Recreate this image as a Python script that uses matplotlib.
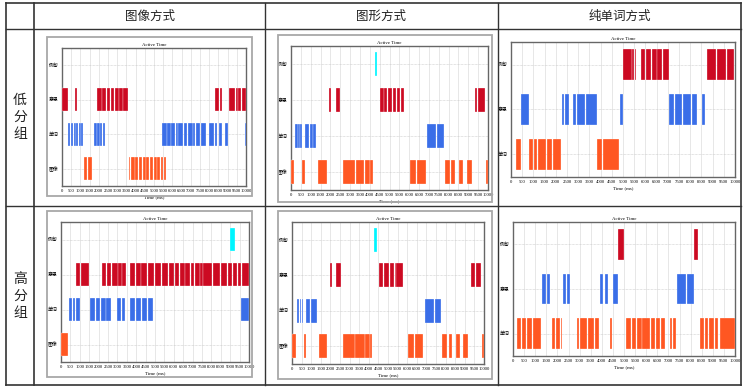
import matplotlib
matplotlib.use('Agg')
import matplotlib.pyplot as plt
from matplotlib.lines import Line2D
from matplotlib.patches import Rectangle

plt.rcParams['font.family'] = ['Liberation Serif', 'Noto Sans CJK SC']

W, H = 746, 387

col_titles = ['图像方式', '图形方式', '纯单词方式']
row_titles = ['低分组', '高分组']

cats4 = ['图像', '单词', '意思', '例句']   # bottom -> top
cats3 = ['单词', '意思', '例句']

# colours used by the source tool, in bottom -> top order
colors4 = ['#ff5722', '#3a6ee8', '#cc0a22', '#00f5ff']
colors3 = ['#ff5722', '#3a6ee8', '#cc0a22']

# active intervals (ms), start/end pairs
low_img = {
    '例句': [],
    '意思': [(0, 300), (680, 820), (1900, 2160), (2190, 2410), (2440, 2610), (2650, 2830),
           (2860, 3080), (3120, 3290), (3330, 3570), (8335, 8530), (8570, 8700),
           (9060, 9420), (9460, 9560), (9590, 9740), (9770, 10000)],
    '单词': [(340, 450), (480, 600), (630, 740), (770, 880), (910, 1010), (1040, 1140),
           (1720, 1880), (1910, 2060), (2090, 2200), (2230, 2355),
           (5450, 5700), (5730, 5900), (5930, 6150), (6180, 6300), (6330, 6600),
           (6630, 6800), (6830, 7100), (7130, 7250), (7280, 7500), (7530, 7850),
           (7970, 8250), (8300, 8430), (8520, 8700), (8880, 9020), (9960, 10000)],
    '图像': [(1200, 1380), (1410, 1630),
           (3620, 3700), (3740, 3950), (3980, 4150), (4180, 4350), (4380, 4550),
           (4580, 4750), (4780, 4950), (4980, 5150), (5180, 5350), (5380, 5500), (5530, 5670)],
}

low_fig = {
    '例句': [(4280, 4380)],
    '意思': [(1940, 2010), (2270, 2490),
           (4530, 4700), (4740, 4860), (4900, 5140), (5180, 5330), (5370, 5550), (5590, 5740),
           (9320, 9450), (9490, 9830)],
    '单词': [(220, 340), (370, 440), (470, 560), (715, 930), (960, 1100), (1130, 1260),
           (6920, 7380), (7420, 7750)],
    '图像': [(0, 170), (580, 700), (1360, 1810),
           (2640, 3240), (3280, 3720), (3760, 3990), (4020, 4160),
           (6020, 6340), (6410, 6830), (7800, 8090), (8130, 8300),
           (8550, 8740), (8930, 9170), (9880, 10000)],
}

low_word = {
    '例句': [(5015, 5380), (5420, 5490), (5530, 5600),
           (5810, 5980), (6020, 6270), (6310, 6500), (6540, 6730), (6770, 7035),
           (8760, 9170), (9210, 9600), (9640, 9970)],
    '意思': [(465, 795), (2260, 2380), (2420, 2575),
           (2785, 2920), (2960, 3290), (3330, 3830), (4865, 4985),
           (7065, 7280), (7320, 7620), (7660, 8020), (8060, 8320), (8530, 8680)],
    '单词': [(240, 435), (795, 970), (1010, 1180), (1220, 1570), (1610, 1820), (1860, 2215),
           (3860, 4050), (4090, 4835)],
}

high_img = {
    '例句': [(8990, 9250)],
    '意思': [(800, 1010), (1050, 1510),
           (2200, 2390), (2430, 2680), (2720, 3010), (3050, 3220), (3260, 3480),
           (3660, 3960), (4000, 4230), (4270, 4600), (4640, 4960), (5000, 5320),
           (5360, 5680), (5720, 6010), (6050, 6290), (6330, 6580), (6620, 6880),
           (6920, 7100), (7140, 7380), (7420, 7530), (7570, 8030), (8070, 8480),
           (8520, 8840), (8880, 9100), (9140, 9350), (9390, 9580), (9620, 10000)],
    '单词': [(430, 600), (640, 760), (800, 995),
           (1560, 1830), (1870, 2100), (2140, 2380), (2420, 2680),
           (2980, 3200), (3240, 3430),
           (3690, 3930), (3970, 4250), (4290, 4570), (4610, 4880),
           (9550, 10000)],
    '图像': [(0, 355)],
}

high_fig = {
    '例句': [(4290, 4430)],
    '意思': [(1960, 2065), (2290, 2535),
           (4550, 4750), (4790, 5060), (5100, 5300), (5340, 5400), (5440, 5765),
           (9305, 9520), (9560, 9825)],
    '单词': [(260, 370), (410, 490), (530, 590), (745, 950), (990, 1285),
           (6945, 7390), (7430, 7760)],
    '图像': [(0, 210), (625, 730), (1390, 1840),
           (2675, 3260), (3300, 3780), (3820, 4040), (4080, 4170),
           (6025, 6355), (6425, 6840), (7810, 8090), (8175, 8315),
           (8560, 8770), (8925, 9165), (9895, 10000)],
}

high_word = {
    '例句': [(4740, 4980), (8170, 8350)],
    '意思': [(1310, 1500), (1540, 1685), (2240, 2375), (2420, 2590),
           (3910, 4075), (4135, 4300), (4510, 4710),
           (7400, 7800), (7840, 8150)],
    '单词': [(195, 370), (410, 590), (630, 870), (910, 1250),
           (1745, 1900), (1940, 2100), (2140, 2225),
           (2890, 2970), (3010, 3350), (3390, 3650), (3690, 3895),
           (4360, 4470),
           (5070, 5300), (5340, 5530), (5570, 5790), (5830, 6160), (6200, 6390),
           (6430, 6620), (6660, 6845),
           (7070, 7160), (7200, 7340),
           (8410, 8620), (8660, 8800), (8840, 9050), (9090, 9230), (9270, 9300),
           (9340, 10000)],
}

xticks = list(range(0, 10001, 500))

fig = plt.figure(figsize=(W / 100, H / 100), dpi=100)


def fx(x):
    return x / W


def fy(y):
    return 1 - y / H


def line(x0, y0, x1, y1, lw=1.0, color='#333333'):
    fig.add_artist(Line2D([fx(x0), fx(x1)], [fy(y0), fy(y1)], transform=fig.transFigure,
                          color=color, lw=lw))


# table grid
for x in [6, 741]:
    line(x, 3, x, 385, lw=1.2)
for y in [3, 385]:
    line(6, y, 741, y, lw=1.2)
line(34, 3, 34, 385, lw=1.2)
line(265, 3, 265, 385)
line(498, 3, 498, 385)
line(6, 29, 741, 29)
line(6, 206, 741, 206)

for cx, t in zip([150, 381, 620], col_titles):
    fig.text(fx(cx), fy(16), t, ha='center', va='center', fontsize=9,
             family=['Noto Sans CJK SC'], color='#222222')
for cy, t in zip([117, 296], row_titles):
    fig.text(fx(20), fy(cy), '\n'.join(t), ha='center', va='center', fontsize=10,
             family=['Noto Sans CJK SC'], color='#222222', linespacing=1.25)


def draw_chart(data, cats, colors, box, frame):
    x0, y0, x1, y1 = box
    if frame is not None:
        a, b, c, d = frame
        fig.add_artist(Rectangle((fx(a), fy(d)), fx(c) - fx(a), fy(b) - fy(d),
                                 transform=fig.transFigure, fill=False,
                                 edgecolor='#a8a8a8', lw=1.3))
    ax = fig.add_axes([fx(x0), fy(y1), fx(x1) - fx(x0), fy(y0) - fy(y1)])
    for i, (cat, col) in enumerate(zip(cats, colors)):
        segs = [(s, e - s) for s, e in data[cat]]
        if segs:
            ax.broken_barh(segs, (i - 0.34, 0.68), facecolors=col,
                           edgecolor='#ffffff', linewidth=0.2, zorder=3)
    ax.set_xlim(0, 10000)
    ax.set_ylim(-0.5, len(cats) - 0.5)
    ax.set_xticks(xticks)
    ax.set_xticklabels([str(t) for t in xticks], fontsize=3.3)
    ax.set_yticks(range(len(cats)))
    ax.set_yticklabels(cats, fontsize=3.5)
    ax.tick_params(length=0, pad=2.5)
    for t in xticks:
        ax.axvline(t, color='#dddddd', lw=0.5, zorder=1)
    for i in range(len(cats)):
        ax.axhline(i, color='#c8c8c8', lw=0.5, ls=(0, (1, 1)), zorder=1)
    for s in ax.spines.values():
        s.set_color('#666666')
        s.set_linewidth(1.0)
    ax.set_title('Active Time', fontsize=3.5, pad=1.5)
    ax.set_xlabel('Time (ms)', fontsize=3.5, labelpad=1)


draw_chart(low_img, cats4, colors4, (62, 48, 246, 186), (47, 37, 252, 196))
draw_chart(low_fig, cats4, colors4, (291, 46, 488, 190), (278, 35, 492, 202))
draw_chart(low_word, cats3, colors3, (511, 42, 735, 177), None)
draw_chart(high_img, cats4, colors4, (61, 222, 249, 362), (47, 211, 252, 377))
draw_chart(high_fig, cats4, colors4, (292, 222, 484, 364), (278, 211, 492, 379))
draw_chart(high_word, cats3, colors3, (513, 222, 735, 356), None)

fig.savefig('out.png', dpi=100)
